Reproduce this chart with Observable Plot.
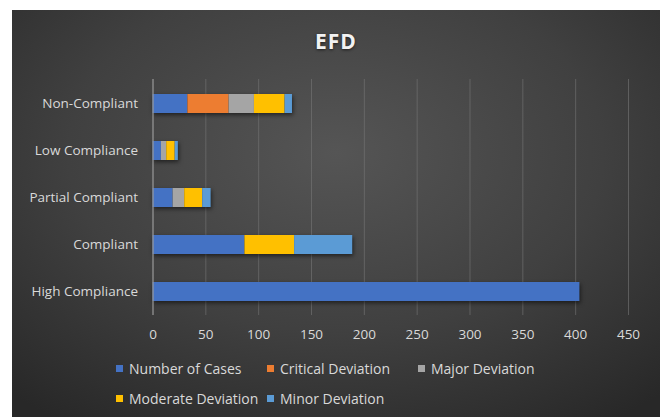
<!DOCTYPE html>
<html>
<head>
<meta charset="utf-8">
<script src="https://cdn.jsdelivr.net/npm/d3@7"></script>
<script src="https://cdn.jsdelivr.net/npm/@observablehq/plot@0.6"></script>
<style>
  html, body { margin: 0; padding: 0; background: #ffffff; }
  #panel {
    position: absolute; left: 12px; top: 10px; width: 648px; height: 407px;
    background: radial-gradient(ellipse 75% 80% at 50% 35%, #555555 0%, #404040 55%, #282828 100%);
    font-family: "Open Sans", sans-serif; overflow: hidden;
  }
  #title {
    position: absolute; left: 0; top: 17px; width: 100%; text-align: center;
    color: #f2f2f2; font-size: 21px; font-weight: 700; letter-spacing: 1px;
    text-shadow: 0 1px 3px rgba(0,0,0,0.6);
  }
  #chart { position: absolute; left: 0; top: 50px; }
  #legend {
    position: absolute; left: 104px; top: 349px;
    display: grid; grid-template-columns: 151px 151px 151px; row-gap: 11px;
    color: #d9d9d9; font-size: 14px;
  }
  .item { display: flex; align-items: center; white-space: nowrap; }
  .sw { width: 7px; height: 7px; margin-right: 6px; }
</style>
</head>
<body>
<div id="panel">
  <div id="title">EFD</div>
  <div id="chart"></div>
  <div id="legend"></div>
</div>
<script>
// Compliance levels (top to bottom) and deviation counts per level
const categories = ["Non-Compliant", "Low Compliance", "Partial Compliant", "Compliant", "High Compliance"];
const seriesNames = ["Number of Cases", "Critical Deviation", "Major Deviation", "Moderate Deviation", "Minor Deviation"];
const numberOfCases     = [33, 8, 19, 87, 404];
const criticalDeviation = [39, 0, 0, 0, 0];
const majorDeviation    = [24, 5, 11, 0, 0];
const moderateDeviation = [29, 8, 17, 47, 0];
const minorDeviation    = [7, 3, 8, 55, 0];
const xTicks = [0, 50, 100, 150, 200, 250, 300, 350, 400, 450];
const colors = ["#4472c4", "#ed7d31", "#a5a5a5", "#ffc000", "#5b9bd5"];

const seriesValues = [numberOfCases, criticalDeviation, majorDeviation, moderateDeviation, minorDeviation];
const rows = [];
seriesNames.forEach((s, si) => {
  categories.forEach((c, ci) => {
    rows.push({category: c, series: s, value: seriesValues[si][ci]});
  });
});

const chart = Plot.plot({
  width: 648,
  height: 290,
  marginLeft: 140.5,
  marginRight: 32,
  marginTop: 19,
  marginBottom: 35,
  style: {background: "transparent", color: "#d9d9d9", fontFamily: "Open Sans, sans-serif", fontSize: "13.5px"},
  x: {domain: [0, 450], ticks: xTicks, label: null},
  y: {domain: categories, paddingInner: 0.6, paddingOuter: 0.3, label: null},
  color: {domain: seriesNames, range: colors},
  marks: [
    Plot.gridX(xTicks.filter(d => d > 0), {stroke: "#777777", strokeOpacity: 0.6, strokeWidth: 1}),
    Plot.axisX({ticks: xTicks, tickSize: 0, tickPadding: 14, fill: "#d9d9d9", label: null}),
    Plot.axisY({tickSize: 0, tickPadding: 15, fill: "#d9d9d9", label: null}),
    Plot.barX(rows, Plot.stackX({x: "value", y: "category", fill: "series", order: seriesNames, inset: 0})),
    Plot.ruleX([0], {stroke: "#9a9a9a", strokeWidth: 1.2})
  ]
});
// soft shadow under the bars
chart.querySelectorAll("g[aria-label='bar']").forEach(g => g.style.filter = "drop-shadow(1px 2px 2px rgba(0,0,0,0.55))");
document.getElementById("chart").appendChild(chart);

const legend = document.getElementById("legend");
seriesNames.forEach((s, i) => {
  const item = document.createElement("div");
  item.className = "item";
  const sw = document.createElement("span");
  sw.className = "sw";
  sw.style.background = colors[i];
  const label = document.createElement("span");
  label.textContent = s;
  item.appendChild(sw);
  item.appendChild(label);
  legend.appendChild(item);
});
</script>
</body>
</html>
